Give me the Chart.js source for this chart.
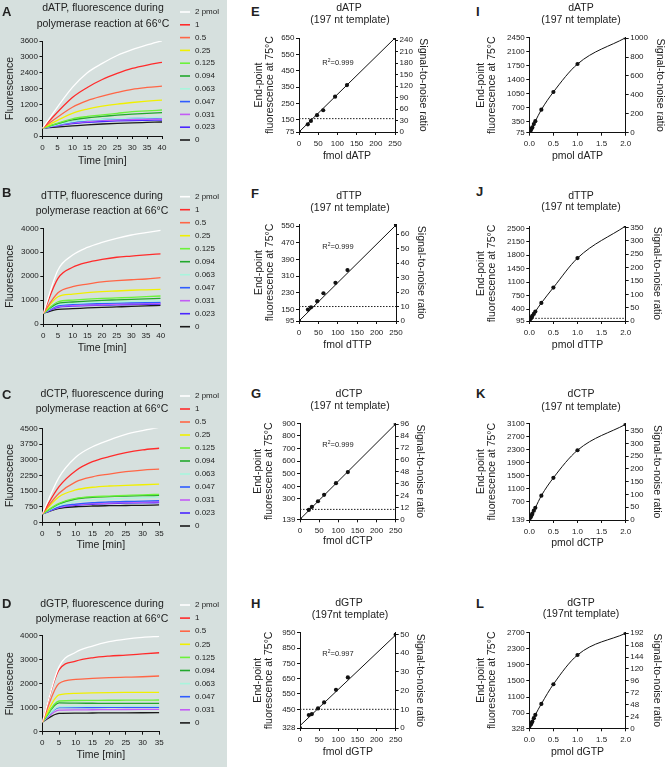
<!DOCTYPE html>
<html>
<head>
<meta charset="utf-8">
<script src="https://cdn.jsdelivr.net/npm/chart.js@4.4.1/dist/chart.umd.min.js"></script>
<style>
html, body { margin: 0; padding: 0; overflow: hidden; }
body { width: 667px; height: 767px; position: relative; background: #fff; font-family: "Liberation Sans", Arial, sans-serif; color: #222; }
#leftbg { position: absolute; left: 0; top: 0; width: 227px; height: 767px; background: #d6e0de; }
canvas { position: absolute; z-index: 1; }
.tx { position: absolute; z-index: 2; white-space: nowrap; transform: translate(-50%, -50%); font-size: 10.5px; line-height: 1; }
.lt { position: absolute; z-index: 2; font-weight: bold; font-size: 13px; transform: translateY(-50%); line-height: 1; }
.r2 { position: absolute; z-index: 2; font-size: 7.5px; transform: translate(-50%, -50%); white-space: nowrap; }
.r2 sup { font-size: 5px; }
</style>
</head>
<body>
<div id="leftbg"></div>
<script>
const FONT = "'Liberation Sans', Arial, sans-serif";

// ---- data: time courses ----
const seriesLabels = ['2 pmol', '1', '0.5', '0.25', '0.125', '0.094', '0.063', '0.047', '0.031', '0.023', '0'];
const seriesLabelsD = ['2 pmol', '1', '0.5', '0.25', '0.125', '0.094', '0.063', '0.047', '0.031', '0'];

const timeA = [0, 10, 15, 20, 25, 30, 35, 40];
const fluorA = [
  [300, 1840, 2400, 2750, 3050, 3270, 3450, 3610],
  [300, 1460, 1840, 2140, 2370, 2560, 2690, 2790],
  [300, 1090, 1340, 1510, 1650, 1770, 1840, 1890],
  [300, 860, 1020, 1130, 1210, 1270, 1320, 1360],
  [300, 650, 740, 800, 860, 920, 950, 985],
  [300, 610, 690, 740, 790, 830, 860, 885],
  [300, 545, 600, 635, 660, 680, 695, 710],
  [300, 530, 590, 625, 650, 670, 685, 695],
  [300, 500, 550, 590, 610, 625, 635, 645],
  [300, 470, 520, 550, 570, 585, 595, 605],
  [300, 380, 420, 455, 480, 500, 515, 530]
];

const timeB = [0, 5, 10, 15, 20, 25, 30, 35, 40];
const fluorB = [
  [450, 2260, 2880, 3200, 3410, 3580, 3720, 3820, 3910],
  [450, 1910, 2370, 2580, 2700, 2790, 2840, 2890, 2930],
  [450, 1310, 1560, 1670, 1760, 1810, 1850, 1880, 1940],
  [450, 1140, 1250, 1310, 1350, 1380, 1410, 1430, 1450],
  [450, 930, 1000, 1040, 1070, 1090, 1110, 1140, 1170],
  [450, 860, 920, 960, 990, 1010, 1030, 1050, 1070],
  [450, 810, 860, 890, 910, 930, 945, 960, 975],
  [450, 770, 820, 845, 860, 875, 885, 895, 905],
  [450, 725, 770, 795, 810, 825, 840, 850, 865],
  [450, 700, 745, 770, 785, 800, 815, 825, 835],
  [450, 610, 640, 670, 695, 715, 735, 760, 780]
];

const timeC = [0, 5, 10, 15, 20, 25, 30, 35];
const fluorC = [
  [420, 2160, 3120, 3620, 3940, 4210, 4390, 4550],
  [420, 1720, 2480, 2910, 3150, 3340, 3470, 3550],
  [420, 1400, 1950, 2190, 2320, 2430, 2510, 2550],
  [420, 1240, 1560, 1690, 1750, 1780, 1810, 1840],
  [420, 920, 1160, 1240, 1270, 1300, 1330, 1350],
  [420, 890, 1130, 1210, 1240, 1270, 1290, 1300],
  [420, 830, 1000, 1090, 1130, 1160, 1190, 1210],
  [420, 760, 890, 960, 990, 1010, 1030, 1050],
  [420, 730, 860, 910, 940, 960, 980, 1000],
  [420, 715, 830, 880, 910, 930, 945, 955],
  [420, 680, 760, 795, 810, 820, 830, 845]
];

const timeD = [0, 5, 10, 15, 20, 25, 30, 35];
const fluorD = [
  [400, 2710, 3310, 3570, 3750, 3860, 3930, 3970],
  [400, 2570, 2940, 3080, 3150, 3190, 3240, 3290],
  [400, 2010, 2180, 2220, 2250, 2270, 2290, 2320],
  [400, 1530, 1600, 1620, 1630, 1635, 1638, 1640],
  [400, 1280, 1300, 1305, 1310, 1312, 1315, 1320],
  [400, 1200, 1190, 1185, 1180, 1180, 1180, 1180],
  [400, 1040, 1050, 1055, 1060, 1062, 1065, 1070],
  [400, 1000, 1005, 1008, 1010, 1012, 1013, 1015],
  [400, 900, 910, 915, 920, 925, 928, 930],
  [400, 765, 775, 780, 785, 788, 790, 792]
];

// ---- data: end-point, fmol (linear) ----
const fmol = [0, 23, 31, 47, 63, 94, 125, 250];
const endE = [75, 122, 143, 178, 208, 291, 362, 650];
const endF = [95, 150, 161, 190, 228, 278, 339, 555];
const endG = [139, 213, 237, 282, 333, 425, 513, 895];
const endH = [328, 413, 419, 456, 495, 577, 658, 937];
const fitX = [0, 250];
const fitE = [75, 650];
const fitF = [95, 555];
const fitG = [139, 895];
const fitH = [343, 935];

// ---- data: end-point, pmol (curves) ----
const pmol = [0, 0.023, 0.031, 0.047, 0.063, 0.094, 0.125, 0.25, 0.5, 1, 2];
const endI = [75, 122, 143, 178, 208, 291, 362, 650, 1092, 1792, 2450];
const endJ = [95, 150, 161, 190, 228, 278, 339, 563, 963, 1727, 2560];
const endK = [139, 213, 237, 282, 333, 425, 513, 884, 1430, 2275, 3069];
const endL = [328, 413, 419, 456, 495, 577, 658, 931, 1417, 2139, 2675];

// signal-to-noise threshold lines
const snrE = 35;
const snrF = 10;
const snrG = 10;
const snrH = 10;
const snrJ = 10;

// ---- tick labels ----
const tickTimeAB = [0, 5, 10, 15, 20, 25, 30, 35, 40];
const tickTimeCD = [0, 5, 10, 15, 20, 25, 30, 35];
const tickYA = [0, 600, 1200, 1800, 2400, 3000, 3600];
const tickYB = [0, 1000, 2000, 3000, 4000];
const tickYC = [0, 750, 1500, 2250, 3000, 3750, 4500];
const tickYD = [0, 1000, 2000, 3000, 4000];
const tickFmol = [0, 50, 100, 150, 200, 250];
const tickPmol = [0, 0.5, 1, 1.5, 2];
const tickYE = [75, 150, 250, 350, 450, 550, 650];
const tickYF = [95, 150, 230, 310, 390, 470, 550];
const tickYG = [139, 300, 400, 500, 600, 700, 800, 900];
const tickYH = [328, 450, 550, 650, 750, 850, 950];
const tickYI = [75, 350, 700, 1050, 1400, 1750, 2100, 2450];
const tickYJ = [95, 400, 750, 1100, 1450, 1800, 2150, 2500];
const tickYK = [139, 700, 1100, 1500, 1900, 2300, 2700, 3100];
const tickYL = [328, 700, 1100, 1500, 1900, 2300, 2700];
const tickSE = [0, 30, 60, 90, 120, 150, 180, 210, 240];
const tickSF = [0, 10, 20, 30, 40, 50, 60];
const tickSG = [0, 12, 24, 36, 48, 60, 72, 84, 96];
const tickSH = [0, 10, 20, 30, 40, 50];
const tickSI = [0, 200, 400, 600, 800, 1000];
const tickSJ = [0, 50, 100, 150, 200, 250, 300, 350];
const tickSK = [0, 50, 100, 150, 200, 250, 300, 350];
const tickSL = [0, 24, 48, 72, 96, 120, 144, 168, 192];

const lineColor = {
  '2 pmol': '#ffffff', '1': '#ff2b2b', '0.5': '#ff6646', '0.25': '#f0f000',
  '0.125': '#6cf23a', '0.094': '#22a82c', '0.063': '#a8f5dc', '0.047': '#2f5cff',
  '0.031': '#c35cf5', '0.023': '#4a26ff', '0': '#1a1a1a'
};

// legend drawn beside the time-course plots
const sideLegend = {
  id: 'sideLegend',
  afterDraw(chart, args, opts) {
    if (!opts || opts.x === undefined) return;
    const ctx = chart.ctx;
    ctx.save();
    ctx.font = '8px ' + FONT;
    ctx.textBaseline = 'middle';
    chart.data.datasets.forEach((ds, i) => {
      const y = opts.y + i * opts.step;
      ctx.strokeStyle = ds.borderColor;
      ctx.lineWidth = 1.6;
      ctx.beginPath();
      ctx.moveTo(opts.x, y);
      ctx.lineTo(opts.x + 10, y);
      ctx.stroke();
      ctx.fillStyle = '#222';
      ctx.fillText(ds.label, opts.x + 15, y);
    });
    ctx.restore();
  }
};
Chart.register(sideLegend);

function pts(xs, ys) {
  return xs.map((x, i) => ({ x: x, y: ys[i] }));
}

function axis(o, pos, fit, tfs) {
  return {
    type: 'linear',
    position: pos,
    min: o.min,
    max: o.max,
    afterBuildTicks: sc => { sc.ticks = o.ticks.map(v => ({ value: v })); },
    afterFit: fit,
    border: { display: true, color: '#111', width: 1 },
    grid: { drawOnChartArea: false, drawTicks: true, tickLength: 3, color: '#111' },
    ticks: {
      color: '#222', font: { size: 8, family: FONT }, padding: pos === 'bottom' ? 3.5 : 1.5,
      maxRotation: 0, autoSkip: false, callback: o.fmt || (v => String(v))
    },
    title: { display: true, text: o.title, color: '#222', font: { size: tfs, family: FONT, lineHeight: 1.1 }, padding: { top: 3, bottom: 3 } }
  };
}

function build(s) {
  const tfs = s.tfs;
  const lh = tfs * 1.1;
  const [l, t, r, b] = s.area;
  const bx = Math.round(s.yTitleX - lh / 2 - 3);
  const by = Math.round(s.boxTop);
  const br = Math.round(s.y2TitleX ? s.y2TitleX + lh / 2 + 3 : s.boxRight);
  const bb = Math.round(s.xTitleY + lh / 2 + 3);
  const c = document.createElement('canvas');
  c.width = br - bx; c.height = bb - by;
  c.style.left = bx + 'px'; c.style.top = by + 'px';
  c.style.width = (br - bx) + 'px'; c.style.height = (bb - by) + 'px';
  document.body.appendChild(c);

  const scales = {
    x: axis(s.x, 'bottom', sc => { sc.height = bb - b; }, tfs),
    y: axis(s.y, 'left', sc => { sc.width = l - bx; }, tfs)
  };
  if (s.y2) scales.y2 = axis(s.y2, 'right', sc => { sc.width = br - r; }, tfs);

  new Chart(c, {
    type: 'line',
    data: { datasets: s.datasets },
    options: {
      responsive: false,
      animation: false,
      devicePixelRatio: 1,
      layout: { padding: { top: t - by, left: 0, bottom: 0, right: s.y2 ? 0 : br - r } },
      plugins: {
        legend: { display: false },
        tooltip: { enabled: false },
        sideLegend: s.legend ? Object.assign({}, s.legend, { y: s.legend.y - by, x: s.legend.x - bx }) : {}
      },
      scales: scales
    }
  });
}

function timeSets(times, labels, values) {
  return labels.map((lab, i) => ({
    label: lab,
    data: pts(times, values[i]),
    borderColor: lineColor[lab],
    borderWidth: 1.3,
    pointRadius: 0,
    cubicInterpolationMode: 'monotone'
  }));
}

function endSets(xs, ys, fx, fy, curve) {
  const sets = [{
    data: pts(xs, ys), showLine: !!curve, borderColor: '#111', borderWidth: 1,
    pointRadius: 2.1, pointBackgroundColor: '#111', pointBorderWidth: 0,
    cubicInterpolationMode: 'monotone'
  }];
  if (fx) sets.push({ data: pts(fx, fy), borderColor: '#111', borderWidth: 1, pointRadius: 0 });
  return sets;
}

function snrLine(x0, x1, v) {
  return { data: pts([x0, x1], [v, v]), yAxisID: 'y2', borderColor: '#222', borderWidth: 1, borderDash: [1.5, 1.5], pointRadius: 0 };
}

const yTitle2 = ['End-point', 'fluorescence at 75°C'];
const fmt1 = v => v.toFixed(1);
const TF = 10.5;

// ---- time courses ----
build({ tfs: 10.5, area: [42.5, 41, 162, 136], yTitleX: 9.5, xTitleY: 161.7, boxTop: 0, boxRight: 227,
  legend: { x: 180, y: 12, step: 12.8 },
  datasets: timeSets(timeA, seriesLabels, fluorA),
  x: { min: 0, max: 40, ticks: tickTimeAB, title: 'Time [min]' },
  y: { min: 0, max: 3600, ticks: tickYA, title: 'Fluorescence' } });
build({ tfs: 10.5, area: [43.3, 228.3, 160.7, 324], yTitleX: 9.5, xTitleY: 348, boxTop: 188, boxRight: 227,
  legend: { x: 180, y: 196.7, step: 13 },
  datasets: timeSets(timeB, seriesLabels, fluorB),
  x: { min: 0, max: 40, ticks: tickTimeAB, title: 'Time [min]' },
  y: { min: 0, max: 4000, ticks: tickYB, title: 'Fluorescence' } });
build({ tfs: 10.5, area: [42.3, 428.3, 159.3, 522.7], yTitleX: 9.5, xTitleY: 545.7, boxTop: 388, boxRight: 227,
  legend: { x: 180, y: 396, step: 13 },
  datasets: timeSets(timeC, seriesLabels, fluorC),
  x: { min: 0, max: 35, ticks: tickTimeCD, title: 'Time [min]' },
  y: { min: 0, max: 4500, ticks: tickYC, title: 'Fluorescence' } });
build({ tfs: 10.5, area: [42.3, 635.7, 159.3, 731.7], yTitleX: 9.5, xTitleY: 755, boxTop: 598, boxRight: 227,
  legend: { x: 180, y: 605, step: 13.1 },
  datasets: timeSets(timeD, seriesLabelsD, fluorD),
  x: { min: 0, max: 35, ticks: tickTimeCD, title: 'Time [min]' },
  y: { min: 0, max: 4000, ticks: tickYD, title: 'Fluorescence' } });

// ---- end-point vs fmol ----
build({ tfs: TF, area: [299, 38, 395, 132], yTitleX: 259, xTitleY: 156.7, y2TitleX: 423, boxTop: 28,
  datasets: endSets(fmol, endE, fitX, fitE).concat([snrLine(0, 250, snrE)]),
  x: { min: 0, max: 250, ticks: tickFmol, title: 'fmol dATP' },
  y: { min: 75, max: 650, ticks: tickYE, title: yTitle2 },
  y2: { min: 0, max: 246, ticks: tickSE, title: 'Signal-to-noise ratio' } });
build({ tfs: TF, area: [299, 224, 396, 321], yTitleX: 259, xTitleY: 345, y2TitleX: 421, boxTop: 214,
  datasets: endSets(fmol, endF, fitX, fitF).concat([snrLine(0, 250, snrF)]),
  x: { min: 0, max: 250, ticks: tickFmol, title: 'fmol dTTP' },
  y: { min: 95, max: 560, ticks: tickYF, title: yTitle2 },
  y2: { min: 0, max: 67, ticks: tickSF, title: 'Signal-to-noise ratio' } });
build({ tfs: TF, area: [300, 423.3, 395.7, 519.3], yTitleX: 258, xTitleY: 541.7, y2TitleX: 420, boxTop: 413,
  datasets: endSets(fmol, endG, fitX, fitG).concat([snrLine(0, 250, snrG)]),
  x: { min: 0, max: 250, ticks: tickFmol, title: 'fmol dCTP' },
  y: { min: 139, max: 900, ticks: tickYG, title: yTitle2 },
  y2: { min: 0, max: 97, ticks: tickSG, title: 'Signal-to-noise ratio' } });
build({ tfs: TF, area: [300, 632.7, 395.7, 728], yTitleX: 258, xTitleY: 752.7, y2TitleX: 420, boxTop: 622,
  datasets: endSets(fmol, endH, fitX, fitH).concat([snrLine(0, 250, snrH)]),
  x: { min: 0, max: 250, ticks: tickFmol, title: 'fmol dGTP' },
  y: { min: 328, max: 950, ticks: tickYH, title: yTitle2 },
  y2: { min: 0, max: 51, ticks: tickSH, title: 'Signal-to-noise ratio' } });

// ---- end-point vs pmol ----
build({ tfs: TF, area: [529.3, 37.7, 625.7, 132.7], yTitleX: 480.5, xTitleY: 156.7, y2TitleX: 660, boxTop: 28,
  datasets: endSets(pmol, endI, null, null, true),
  x: { min: 0, max: 2, ticks: tickPmol, title: 'pmol dATP', fmt: fmt1 },
  y: { min: 75, max: 2450, ticks: tickYI, title: yTitle2 },
  y2: { min: 0, max: 1005, ticks: tickSI, title: 'Signal-to-noise ratio' } });
build({ tfs: TF, area: [529.3, 226, 625.7, 321], yTitleX: 480.5, xTitleY: 345, y2TitleX: 657, boxTop: 216,
  datasets: endSets(pmol, endJ, null, null, true).concat([snrLine(0, 2, snrJ)]),
  x: { min: 0, max: 2, ticks: tickPmol, title: 'pmol dTTP', fmt: fmt1 },
  y: { min: 95, max: 2560, ticks: tickYJ, title: yTitle2 },
  y2: { min: 0, max: 356, ticks: tickSJ, title: 'Signal-to-noise ratio' } });
build({ tfs: TF, area: [529.3, 423.3, 625.7, 520], yTitleX: 480.5, xTitleY: 543.3, y2TitleX: 657, boxTop: 413,
  datasets: endSets(pmol, endK, null, null, true),
  x: { min: 0, max: 2, ticks: tickPmol, title: 'pmol dCTP', fmt: fmt1 },
  y: { min: 139, max: 3100, ticks: tickYK, title: yTitle2 },
  y2: { min: 0, max: 379, ticks: tickSK, title: 'Signal-to-noise ratio' } });
build({ tfs: TF, area: [529.3, 632.3, 625.7, 728.3], yTitleX: 480.5, xTitleY: 752.7, y2TitleX: 657, boxTop: 622,
  datasets: endSets(pmol, endL, null, null, true),
  x: { min: 0, max: 2, ticks: tickPmol, title: 'pmol dGTP', fmt: fmt1 },
  y: { min: 328, max: 2700, ticks: tickYL, title: yTitle2 },
  y2: { min: 0, max: 194, ticks: tickSL, title: 'Signal-to-noise ratio' } });

// ---- text: panel letters, titles, R² ----
const texts = [
  ['lt', 'A', 2, 10.5], ['lt', 'B', 2, 192], ['lt', 'C', 2, 394], ['lt', 'D', 2, 603],
  ['lt', 'E', 251, 10.5], ['lt', 'F', 251, 193], ['lt', 'G', 251, 393], ['lt', 'H', 251, 603],
  ['lt', 'I', 476, 10.5], ['lt', 'J', 476, 191], ['lt', 'K', 476, 393], ['lt', 'L', 476, 603],
  ['tx', 'dATP, fluorescence during', 103, 7], ['tx', 'polymerase reaction at 66°C', 103, 23],
  ['tx', 'dTTP, fluorescence during', 102, 195], ['tx', 'polymerase reaction at 66°C', 102, 210],
  ['tx', 'dCTP, fluorescence during', 102, 393.3], ['tx', 'polymerase reaction at 66°C', 102, 408.3],
  ['tx', 'dGTP, fluorescence during', 102, 603.3], ['tx', 'polymerase reaction at 66°C', 102, 617.7],
  ['tx', 'dATP', 349, 7], ['tx', '(197 nt template)', 350, 18.5],
  ['tx', 'dTTP', 349, 195], ['tx', '(197 nt template)', 350, 206.5],
  ['tx', 'dCTP', 349, 393], ['tx', '(197 nt template)', 350, 405],
  ['tx', 'dGTP', 349, 602], ['tx', '(197nt template)', 350, 614],
  ['tx', 'dATP', 581, 7], ['tx', '(197 nt template)', 581, 18.5],
  ['tx', 'dTTP', 581, 195], ['tx', '(197 nt template)', 581, 206],
  ['tx', 'dCTP', 581, 393], ['tx', '(197 nt template)', 581, 406],
  ['tx', 'dGTP', 581, 602], ['tx', '(197nt template)', 581, 613]
];
texts.forEach(([cls, txt, x, y]) => {
  const d = document.createElement('div');
  d.className = cls;
  d.textContent = txt;
  d.style.left = x + 'px';
  d.style.top = y + 'px';
  document.body.appendChild(d);
});
const r2 = [['0.999', 338, 62], ['0.999', 338, 246], ['0.999', 338, 444], ['0.997', 338, 653]];
r2.forEach(([v, x, y]) => {
  const d = document.createElement('div');
  d.className = 'r2';
  d.innerHTML = 'R<sup>2</sup>=' + v;
  d.style.left = x + 'px';
  d.style.top = y + 'px';
  document.body.appendChild(d);
});
</script>
</body>
</html>
